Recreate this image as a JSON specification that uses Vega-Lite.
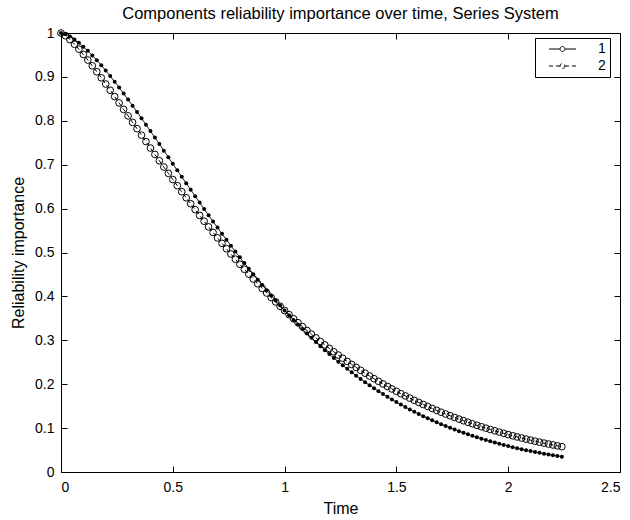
{
  "$schema": "https://vega.github.io/schema/vega-lite/v6.json",
  "width": 559,
  "height": 439,
  "autosize": {"type": "none"},
  "padding": {"left": 61, "top": 33, "right": 10, "bottom": 48},
  "background": "white",
  "title": {"text": "Components reliability importance over time, Series System", "font": "Liberation Sans", "fontSize": 16.5, "fontWeight": "normal", "color": "black", "offset": 4},
  "config": {
    "view": {"stroke": "black", "strokeWidth": 1},
    "axis": {"labelFont": "Liberation Sans", "labelFontSize": 14, "labelColor": "black", "grid": false, "titleFont": "Liberation Sans", "titleFontSize": 16, "titleFontWeight": "normal", "titleColor": "black"}
  },
  "datasets": {
    "r": [
      {"t":0,"v":1,"s":"1"},{"t":0.02,"v":0.9972,"s":"1"},{"t":0.04,"v":0.992,"s":"1"},{"t":0.06,"v":0.9854,"s":"1"},{"t":0.08,"v":0.9776,"s":"1"},{"t":0.1,"v":0.9689,"s":"1"},{"t":0.12,"v":0.9593,"s":"1"},{"t":0.14,"v":0.949,"s":"1"},{"t":0.16,"v":0.938,"s":"1"},{"t":0.18,"v":0.9265,"s":"1"},{"t":0.2,"v":0.9144,"s":"1"},{"t":0.22,"v":0.902,"s":"1"},{"t":0.24,"v":0.8891,"s":"1"},{"t":0.26,"v":0.8758,"s":"1"},{"t":0.28,"v":0.8623,"s":"1"},{"t":0.3,"v":0.8485,"s":"1"},{"t":0.32,"v":0.8344,"s":"1"},{"t":0.34,"v":0.8202,"s":"1"},{"t":0.36,"v":0.8057,"s":"1"},{"t":0.38,"v":0.7912,"s":"1"},{"t":0.4,"v":0.7765,"s":"1"},{"t":0.42,"v":0.7617,"s":"1"},{"t":0.44,"v":0.7469,"s":"1"},{"t":0.46,"v":0.732,"s":"1"},{"t":0.48,"v":0.7171,"s":"1"},{"t":0.5,"v":0.7022,"s":"1"},{"t":0.52,"v":0.6873,"s":"1"},{"t":0.54,"v":0.6725,"s":"1"},{"t":0.56,"v":0.6577,"s":"1"},{"t":0.58,"v":0.6429,"s":"1"},{"t":0.6,"v":0.6283,"s":"1"},{"t":0.62,"v":0.6137,"s":"1"},{"t":0.64,"v":0.5993,"s":"1"},{"t":0.66,"v":0.585,"s":"1"},{"t":0.68,"v":0.5708,"s":"1"},{"t":0.7,"v":0.5567,"s":"1"},{"t":0.72,"v":0.5428,"s":"1"},{"t":0.74,"v":0.5291,"s":"1"},{"t":0.76,"v":0.5155,"s":"1"},{"t":0.78,"v":0.5021,"s":"1"},{"t":0.8,"v":0.4889,"s":"1"},{"t":0.82,"v":0.4759,"s":"1"},{"t":0.84,"v":0.4631,"s":"1"},{"t":0.86,"v":0.4504,"s":"1"},{"t":0.88,"v":0.438,"s":"1"},{"t":0.9,"v":0.4258,"s":"1"},{"t":0.92,"v":0.4138,"s":"1"},{"t":0.94,"v":0.402,"s":"1"},{"t":0.96,"v":0.3904,"s":"1"},{"t":0.98,"v":0.379,"s":"1"},{"t":1,"v":0.3679,"s":"1"},{"t":1.02,"v":0.357,"s":"1"},{"t":1.04,"v":0.3463,"s":"1"},{"t":1.06,"v":0.3358,"s":"1"},{"t":1.08,"v":0.3255,"s":"1"},{"t":1.1,"v":0.3155,"s":"1"},{"t":1.12,"v":0.3057,"s":"1"},{"t":1.14,"v":0.2961,"s":"1"},{"t":1.16,"v":0.2867,"s":"1"},{"t":1.18,"v":0.2775,"s":"1"},{"t":1.2,"v":0.2686,"s":"1"},{"t":1.22,"v":0.2599,"s":"1"},{"t":1.24,"v":0.2514,"s":"1"},{"t":1.26,"v":0.2431,"s":"1"},{"t":1.28,"v":0.235,"s":"1"},{"t":1.3,"v":0.2271,"s":"1"},{"t":1.32,"v":0.2195,"s":"1"},{"t":1.34,"v":0.212,"s":"1"},{"t":1.36,"v":0.2047,"s":"1"},{"t":1.38,"v":0.1977,"s":"1"},{"t":1.4,"v":0.1908,"s":"1"},{"t":1.42,"v":0.1841,"s":"1"},{"t":1.44,"v":0.1776,"s":"1"},{"t":1.46,"v":0.1713,"s":"1"},{"t":1.48,"v":0.1652,"s":"1"},{"t":1.5,"v":0.1593,"s":"1"},{"t":1.52,"v":0.1535,"s":"1"},{"t":1.54,"v":0.1479,"s":"1"},{"t":1.56,"v":0.1425,"s":"1"},{"t":1.58,"v":0.1372,"s":"1"},{"t":1.6,"v":0.1322,"s":"1"},{"t":1.62,"v":0.1272,"s":"1"},{"t":1.64,"v":0.1224,"s":"1"},{"t":1.66,"v":0.1178,"s":"1"},{"t":1.68,"v":0.1133,"s":"1"},{"t":1.7,"v":0.109,"s":"1"},{"t":1.72,"v":0.1048,"s":"1"},{"t":1.74,"v":0.1007,"s":"1"},{"t":1.76,"v":0.0968,"s":"1"},{"t":1.78,"v":0.093,"s":"1"},{"t":1.8,"v":0.0894,"s":"1"},{"t":1.82,"v":0.0858,"s":"1"},{"t":1.84,"v":0.0824,"s":"1"},{"t":1.86,"v":0.0791,"s":"1"},{"t":1.88,"v":0.076,"s":"1"},{"t":1.9,"v":0.0729,"s":"1"},{"t":1.92,"v":0.0699,"s":"1"},{"t":1.94,"v":0.0671,"s":"1"},{"t":1.96,"v":0.0643,"s":"1"},{"t":1.98,"v":0.0617,"s":"1"},{"t":2,"v":0.0591,"s":"1"},{"t":2.02,"v":0.0566,"s":"1"},{"t":2.04,"v":0.0543,"s":"1"},{"t":2.06,"v":0.052,"s":"1"},{"t":2.08,"v":0.0498,"s":"1"},{"t":2.1,"v":0.0477,"s":"1"},{"t":2.12,"v":0.0457,"s":"1"},{"t":2.14,"v":0.0437,"s":"1"},{"t":2.16,"v":0.0418,"s":"1"},{"t":2.18,"v":0.04,"s":"1"},{"t":2.2,"v":0.0383,"s":"1"},{"t":2.22,"v":0.0366,"s":"1"},{"t":2.24,"v":0.035,"s":"1"},
      {"t":0,"v":1,"s":"2"},{"t":0.02,"v":0.9938,"s":"2"},{"t":0.04,"v":0.9849,"s":"2"},{"t":0.06,"v":0.9745,"s":"2"},{"t":0.08,"v":0.9632,"s":"2"},{"t":0.1,"v":0.9511,"s":"2"},{"t":0.12,"v":0.9384,"s":"2"},{"t":0.14,"v":0.9253,"s":"2"},{"t":0.16,"v":0.9118,"s":"2"},{"t":0.18,"v":0.898,"s":"2"},{"t":0.2,"v":0.8838,"s":"2"},{"t":0.22,"v":0.8696,"s":"2"},{"t":0.24,"v":0.8552,"s":"2"},{"t":0.26,"v":0.8406,"s":"2"},{"t":0.28,"v":0.826,"s":"2"},{"t":0.3,"v":0.8113,"s":"2"},{"t":0.32,"v":0.7965,"s":"2"},{"t":0.34,"v":0.782,"s":"2"},{"t":0.36,"v":0.7673,"s":"2"},{"t":0.38,"v":0.7527,"s":"2"},{"t":0.4,"v":0.7379,"s":"2"},{"t":0.42,"v":0.7234,"s":"2"},{"t":0.44,"v":0.709,"s":"2"},{"t":0.46,"v":0.6946,"s":"2"},{"t":0.48,"v":0.6804,"s":"2"},{"t":0.5,"v":0.6662,"s":"2"},{"t":0.52,"v":0.6522,"s":"2"},{"t":0.54,"v":0.6384,"s":"2"},{"t":0.56,"v":0.6246,"s":"2"},{"t":0.58,"v":0.6111,"s":"2"},{"t":0.6,"v":0.5977,"s":"2"},{"t":0.62,"v":0.5844,"s":"2"},{"t":0.64,"v":0.5713,"s":"2"},{"t":0.66,"v":0.5584,"s":"2"},{"t":0.68,"v":0.5457,"s":"2"},{"t":0.7,"v":0.5332,"s":"2"},{"t":0.72,"v":0.5208,"s":"2"},{"t":0.74,"v":0.5086,"s":"2"},{"t":0.76,"v":0.4966,"s":"2"},{"t":0.78,"v":0.4848,"s":"2"},{"t":0.8,"v":0.4732,"s":"2"},{"t":0.82,"v":0.4618,"s":"2"},{"t":0.84,"v":0.4506,"s":"2"},{"t":0.86,"v":0.4396,"s":"2"},{"t":0.88,"v":0.4287,"s":"2"},{"t":0.9,"v":0.4181,"s":"2"},{"t":0.92,"v":0.4077,"s":"2"},{"t":0.94,"v":0.3974,"s":"2"},{"t":0.96,"v":0.3874,"s":"2"},{"t":0.98,"v":0.3775,"s":"2"},{"t":1,"v":0.3679,"s":"2"},{"t":1.02,"v":0.3584,"s":"2"},{"t":1.04,"v":0.3491,"s":"2"},{"t":1.06,"v":0.34,"s":"2"},{"t":1.08,"v":0.3311,"s":"2"},{"t":1.1,"v":0.3224,"s":"2"},{"t":1.12,"v":0.3139,"s":"2"},{"t":1.14,"v":0.3055,"s":"2"},{"t":1.16,"v":0.2974,"s":"2"},{"t":1.18,"v":0.2894,"s":"2"},{"t":1.2,"v":0.2815,"s":"2"},{"t":1.22,"v":0.2739,"s":"2"},{"t":1.24,"v":0.2664,"s":"2"},{"t":1.26,"v":0.2591,"s":"2"},{"t":1.28,"v":0.252,"s":"2"},{"t":1.3,"v":0.245,"s":"2"},{"t":1.32,"v":0.2382,"s":"2"},{"t":1.34,"v":0.2316,"s":"2"},{"t":1.36,"v":0.2251,"s":"2"},{"t":1.38,"v":0.2187,"s":"2"},{"t":1.4,"v":0.2125,"s":"2"},{"t":1.42,"v":0.2065,"s":"2"},{"t":1.44,"v":0.2006,"s":"2"},{"t":1.46,"v":0.1948,"s":"2"},{"t":1.48,"v":0.1892,"s":"2"},{"t":1.5,"v":0.1838,"s":"2"},{"t":1.52,"v":0.1784,"s":"2"},{"t":1.54,"v":0.1733,"s":"2"},{"t":1.56,"v":0.1682,"s":"2"},{"t":1.58,"v":0.1633,"s":"2"},{"t":1.6,"v":0.1585,"s":"2"},{"t":1.62,"v":0.1538,"s":"2"},{"t":1.64,"v":0.1492,"s":"2"},{"t":1.66,"v":0.1448,"s":"2"},{"t":1.68,"v":0.1404,"s":"2"},{"t":1.7,"v":0.1362,"s":"2"},{"t":1.72,"v":0.1321,"s":"2"},{"t":1.74,"v":0.1282,"s":"2"},{"t":1.76,"v":0.1243,"s":"2"},{"t":1.78,"v":0.1205,"s":"2"},{"t":1.8,"v":0.1168,"s":"2"},{"t":1.82,"v":0.1132,"s":"2"},{"t":1.84,"v":0.1098,"s":"2"},{"t":1.86,"v":0.1064,"s":"2"},{"t":1.88,"v":0.1031,"s":"2"},{"t":1.9,"v":0.0999,"s":"2"},{"t":1.92,"v":0.0968,"s":"2"},{"t":1.94,"v":0.0938,"s":"2"},{"t":1.96,"v":0.0909,"s":"2"},{"t":1.98,"v":0.088,"s":"2"},{"t":2,"v":0.0852,"s":"2"},{"t":2.02,"v":0.0825,"s":"2"},{"t":2.04,"v":0.0799,"s":"2"},{"t":2.06,"v":0.0774,"s":"2"},{"t":2.08,"v":0.0749,"s":"2"},{"t":2.1,"v":0.0725,"s":"2"},{"t":2.12,"v":0.0702,"s":"2"},{"t":2.14,"v":0.068,"s":"2"},{"t":2.16,"v":0.0658,"s":"2"},{"t":2.18,"v":0.0637,"s":"2"},{"t":2.2,"v":0.0616,"s":"2"},{"t":2.22,"v":0.0596,"s":"2"},{"t":2.24,"v":0.0577,"s":"2"}
    ]
  },
  "data": {"name": "r"},
  "resolve": {"axis": {"x": "independent", "y": "independent"}},
  "layer": [
    {
      "mark": {"type": "line", "color": "black", "strokeWidth": 1},
      "encoding": {
        "x": {"field": "t", "type": "quantitative", "scale": {"domain": [0, 2.5], "nice": false, "zero": false},
              "axis": {"orient": "bottom", "values": [0, 0.5, 1, 1.5, 2, 2.5], "format": "~g", "ticks": true, "tickSize": 6, "tickColor": "black", "tickWidth": 1, "offset": -6, "domain": false, "labelPadding": 8, "labelFontSize": 14, "title": "Time", "titlePadding": 6}},
        "y": {"field": "v", "type": "quantitative", "scale": {"domain": [0, 1], "nice": false},
              "axis": {"orient": "left", "values": [0, 0.1, 0.2, 0.3, 0.4, 0.5, 0.6, 0.7, 0.8, 0.9, 1], "format": "~g", "ticks": true, "tickSize": 6, "tickColor": "black", "tickWidth": 1, "offset": -6, "domain": false, "labelPadding": 7, "labelFontSize": 14, "title": "Reliability importance", "titlePadding": 8}},
        "strokeDash": {"field": "s", "type": "nominal", "scale": {"domain": ["1", "2"], "range": [[1, 0], [4, 3]]},
          "legend": {
            "title": null, "orient": "none", "legendX": 474, "legendY": 5, "direction": "vertical",
            "padding": 4, "strokeColor": "black", "fillColor": "white",
            "labelFont": "Liberation Sans", "labelFontSize": 14, "labelColor": "black",
            "labelOffset": 45, "rowPadding": 3, "symbolSize": 49, "symbolStrokeWidth": 1, "symbolStrokeColor": "black",
            "symbolType": "M0.857,0H4M5.428,0H8.571M5.428,0L5.332,0.357L5.071,0.618L4.714,0.714L4.357,0.618L4.096,0.357L4,0L4.096,-0.357L4.357,-0.618L4.714,-0.714L5.071,-0.618L5.332,-0.357Z"
          }
        }
      }
    },
    {
      "transform": [{"filter": "datum.s === '1'"}],
      "mark": {"type": "point", "filled": true, "size": 16, "color": "black", "opacity": 1},
      "encoding": {
        "x": {"field": "t", "type": "quantitative", "axis": null},
        "y": {"field": "v", "type": "quantitative", "axis": null}
      }
    },
    {
      "transform": [{"filter": "datum.s === '2'"}],
      "mark": {"type": "point", "filled": false, "size": 45, "color": "black", "strokeWidth": 1, "opacity": 1},
      "encoding": {
        "x": {"field": "t", "type": "quantitative",
              "axis": {"orient": "top", "values": [0, 0.5, 1, 1.5, 2, 2.5], "labels": false, "title": null, "ticks": true, "tickSize": 6, "tickColor": "black", "tickWidth": 1, "offset": -6, "domain": false}},
        "y": {"field": "v", "type": "quantitative",
              "axis": {"orient": "right", "values": [0, 0.1, 0.2, 0.3, 0.4, 0.5, 0.6, 0.7, 0.8, 0.9, 1], "labels": false, "title": null, "ticks": true, "tickSize": 6, "tickColor": "black", "tickWidth": 1, "offset": -6, "domain": false}}
      }
    }
  ]
}
